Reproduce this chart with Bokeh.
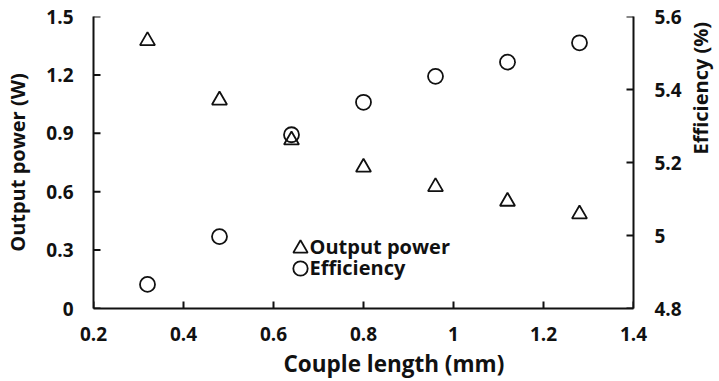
import math
from bokeh.plotting import figure
from bokeh.layouts import row
from bokeh.models import Range1d, LinearAxis, FixedTicker, Legend, LegendItem, Label, Title
from bokeh.embed import file_html
from bokeh.resources import INLINE

couple_length = [0.32, 0.48, 0.64, 0.80, 0.96, 1.12, 1.28]
output_power = [1.375, 1.07, 0.865, 0.725, 0.625, 0.55, 0.485]
efficiency = [4.866, 4.997, 5.276, 5.365, 5.436, 5.475, 5.528]

x_ticks = [0.2, 0.4, 0.6, 0.8, 1.0, 1.2, 1.4]
x_labels = ["0.2", "0.4", "0.6", "0.8", "1", "1.2", "1.4"]
y_ticks = [0, 0.3, 0.6, 0.9, 1.2, 1.5]
y_labels = ["0", "0.3", "0.6", "0.9", "1.2", "1.5"]
y2_ticks = [4.8, 5.0, 5.2, 5.4, 5.6]
y2_labels = ["4.8", "5", "5.2", "5.4", "5.6"]
series_names = ["Output power", "Efficiency"]
x_title = "Couple length (mm)"
y_title = "Output power (W)"
y2_title = "Efficiency (%)"

FONT = "Open Sans"
INK = "#111111"
X0, X1 = 0.2, 1.4
Y0, Y1 = 0.0, 1.5
E0, E1 = 4.8, 5.6

p = figure(width=688, height=381, output_backend="svg", toolbar_location=None,
           x_range=Range1d(X0, X1), y_range=Range1d(Y0, Y1),
           min_border_left=93, min_border_right=55, min_border_top=16, min_border_bottom=72)
p.outline_line_color = None
p.xgrid.visible = False
p.ygrid.visible = False
p.extra_y_ranges = {"eff": Range1d(E0, E1)}

ax2 = LinearAxis(y_range_name="eff")
p.add_layout(ax2, "right")

def style(ax, ticks, labels, standoff):
    ax.ticker = FixedTicker(ticks=ticks)
    ax.major_label_overrides = {t: l for t, l in zip(ticks, labels)}
    ax.major_label_text_font = FONT
    ax.major_label_text_font_style = "bold"
    ax.major_label_text_font_size = "19px"
    ax.major_label_text_color = INK
    ax.major_label_standoff = standoff
    ax.major_tick_in = 0
    ax.major_tick_out = 0
    ax.minor_tick_in = 0
    ax.minor_tick_out = 0
    ax.axis_line_width = 2
    ax.axis_line_color = INK

style(p.xaxis[0], x_ticks, x_labels, 18)
style(p.yaxis[0], y_ticks, y_labels, 20)
style(ax2, y2_ticks, y2_labels, 21)

yax = p.yaxis[0]
yax.axis_label = y_title
yax.axis_label_text_font = FONT
yax.axis_label_text_font_style = "bold"
yax.axis_label_text_font_size = "20px"
yax.axis_label_text_color = INK
yax.axis_label_standoff = 12

xt = Title(text=x_title, align="left", offset=190, standoff=5,
           text_font=FONT, text_font_style="bold", text_font_size="22.5px", text_color=INK)
p.add_layout(xt, "below")

# inward tick marks (half of each dash is clipped away by the frame)
p.scatter(x_ticks, [Y0] * len(x_ticks), marker="dash", angle=math.pi / 2, size=14,
          line_color=INK, line_width=2)
p.scatter([X0] * len(y_ticks), y_ticks, marker="dash", size=14, line_color=INK, line_width=2)
p.scatter([X1] * len(y2_ticks), y2_ticks, marker="dash", size=14, y_range_name="eff",
          line_color=INK, line_width=2)

r1 = p.scatter(couple_length, output_power, marker="triangle", size=15,
               fill_color=None, line_color=INK, line_width=1.8)
r2 = p.scatter(couple_length, efficiency, marker="circle", size=15, y_range_name="eff",
               fill_color=None, line_color=INK, line_width=1.8)

for r, loc in ((r1, (189, 42)), (r2, (189, 22))):
    lg = Legend(items=[LegendItem(label=" ", renderers=[r])],
                location=loc, padding=0, margin=0, spacing=0,
                glyph_width=36, glyph_height=36, label_height=20, label_standoff=0,
                border_line_color=None, background_fill_alpha=0,
                label_text_font_size="2px")
    p.add_layout(lg, "center")

for name, y in zip(series_names, (62, 41)):
    lab = Label(x=216, y=y, x_units="screen", y_units="screen", text=name,
                text_align="left", text_baseline="middle", text_font=FONT,
                text_font_style="bold", text_font_size="20px", text_color=INK)
    p.add_layout(lab)

# narrow strip on the right carrying the right-hand axis title (reads bottom to top)
p2 = figure(width=31, height=381, output_backend="svg", toolbar_location=None,
            x_range=Range1d(0, 1), y_range=Range1d(0, 1),
            min_border_left=0, min_border_right=0, min_border_top=0, min_border_bottom=0)
p2.outline_line_color = None
p2.axis.visible = False
p2.grid.visible = False
p2.add_layout(Label(x=12, y=154, x_units="screen", y_units="screen", text=y2_title,
                    angle=math.pi / 2, text_align="left", text_baseline="middle",
                    text_font=FONT, text_font_style="bold", text_font_size="20px",
                    text_color=INK))

layout = row(p, p2, spacing=0)
open("out.html", "w").write(file_html(layout, INLINE))
